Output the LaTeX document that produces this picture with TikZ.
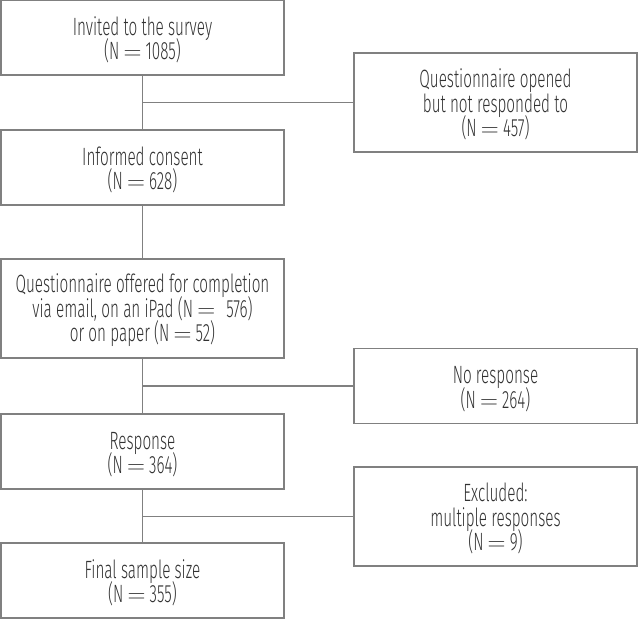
\documentclass[tikz,border=0pt]{standalone}
\usepackage{fontspec}
\setmainfont{Fira Sans Light}[FakeStretch=0.61]
\definecolor{boxline}{RGB}{128,128,128}
\definecolor{txt}{RGB}{50,50,50}
\newcommand{\eqs}{\,$=$\,}
\newcommand{\tstrut}{\rule{0pt}{23pt}}
\newcommand{\boxfont}{\fontsize{25}{24.5}\selectfont\lineskiplimit=-30pt\relax\lineskip=0pt\relax}
\begin{document}
\begin{tikzpicture}[x=1pt,y=1pt,
  box/.style={draw=boxline, line width=1.3pt, minimum width=283pt, align=center,
    inner sep=0pt, text=txt, font=\boxfont},
  b2/.style={box, minimum height=75pt},
  b3/.style={box, minimum height=99pt},
  conn/.style={draw=boxline, line width=1.3pt}]
\useasboundingbox (0,0) rectangle (638,-619);
\node[b2] (inv) at (142.5,-37.5) {\tstrut Invited to the survey\\(N\eqs 1085)};
\node[b2] (cons) at (142.5,-167.5) {\tstrut Informed consent\\(N\eqs 628)};
\node[b3] (offer) at (142.5,-308.5) {\tstrut Questionnaire offered for completion\\via email, on an iPad (N\,$=$\;\,576)\\or on paper (N\eqs 52)};
\node[b2] (resp) at (142.5,-451.5) {\tstrut Response\\(N\eqs 364)};
\node[b2] (final) at (142.5,-580.5) {\tstrut Final sample size\\(N\eqs 355)};
\node[b3] (opened) at (495.5,-102.5) {\tstrut Questionnaire opened\\but not responded to\\(N\eqs 457)};
\node[b2] (nores) at (495.5,-386) {\tstrut No response\\(N\eqs 264)};
\node[b3] (excl) at (495.5,-516.5) {\tstrut Excluded:\\multiple responses\\(N\eqs 9)};
\draw[conn] (inv.south) -- (cons.north);
\draw[conn] (inv.south |- opened.west) -- (opened.west);
\draw[conn] (cons.south) -- (offer.north);
\draw[conn] (offer.south) -- (resp.north);
\draw[conn] (offer.south |- nores.west) -- (nores.west);
\draw[conn] (resp.south) -- (final.north);
\draw[conn] (resp.south |- excl.west) -- (excl.west);
\end{tikzpicture}
\end{document}
